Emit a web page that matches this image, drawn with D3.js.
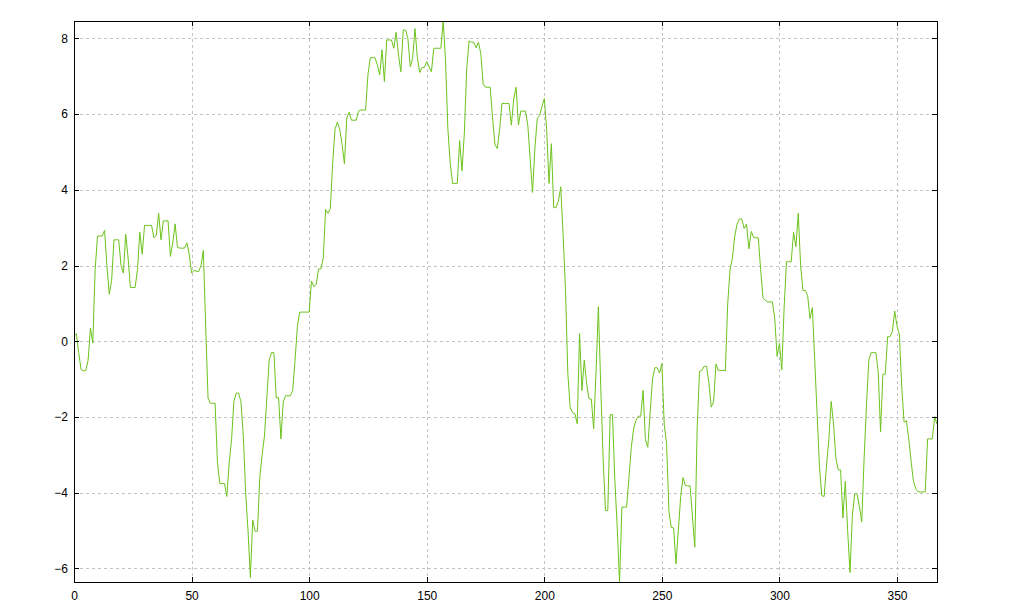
<!DOCTYPE html>
<html>
<head>
<meta charset="utf-8">
<script src="https://cdn.jsdelivr.net/npm/d3@7"></script>
<style>
  html, body { margin: 0; padding: 0; background: #ffffff; }
  svg { display: block; }
  .tick text { font-family: "Liberation Sans", Arial, sans-serif; font-size: 12px; fill: #000; }
</style>
</head>
<body>
<svg id="chart" width="1019" height="607"></svg>
<script>
// ---- data (one value per index 0..367) ----
const values = [
  0.15, 0.2, -0.3, -0.75, -0.78, -0.78, -0.5, 0.35, -0.05, 1.9,
  2.78, 2.78, 2.78, 2.93, 2.0, 1.24, 1.6, 2.68, 2.68, 2.68,
  2.0, 1.8, 2.83, 2.2, 1.42, 1.42, 1.42, 1.9, 2.88, 2.3,
  3.06, 3.06, 3.06, 3.06, 2.73, 2.8, 3.38, 2.68, 3.18, 3.18,
  3.18, 2.24, 2.6, 3.1, 2.48, 2.46, 2.46, 2.46, 2.6, 2.3,
  1.8, 1.87, 1.85, 1.84, 2.0, 2.4, 0.4, -1.5, -1.64, -1.64,
  -1.64, -3.2, -3.76, -3.76, -3.76, -4.1, -3.2, -2.6, -1.59, -1.37,
  -1.37, -1.6, -2.5, -4.0, -5.0, -6.24, -4.72, -5.02, -5.02, -3.6,
  -3.0, -2.5, -1.5, -0.5, -0.3, -0.3, -1.5, -1.49, -2.58, -1.6,
  -1.44, -1.44, -1.44, -1.3, -0.5, 0.4, 0.77, 0.77, 0.77, 0.77,
  0.77, 1.59, 1.44, 1.5, 1.91, 1.91, 2.2, 3.48, 3.38, 3.5,
  4.7, 5.6, 5.79, 5.6, 5.2, 4.69, 5.9, 6.05, 5.84, 5.84,
  5.84, 6.08, 6.11, 6.11, 6.11, 7.04, 7.49, 7.49, 7.49, 7.3,
  7.04, 7.7, 6.86, 7.96, 7.96, 7.96, 7.74, 8.16, 7.56, 7.12,
  8.22, 8.22, 8.0, 7.25, 7.47, 8.26, 7.5, 7.1, 7.23, 7.23,
  7.39, 7.25, 7.12, 7.74, 7.74, 7.74, 7.74, 8.46, 7.4, 5.6,
  4.7, 4.17, 4.17, 4.17, 5.3, 4.5, 5.5, 7.2, 7.93, 7.9,
  7.9, 7.75, 7.9, 7.6, 6.8, 6.71, 6.71, 6.71, 5.9, 5.2,
  5.09, 5.6, 6.28, 6.28, 6.28, 6.28, 5.71, 6.4, 6.71, 5.71,
  6.08, 6.08, 6.08, 5.7, 4.8, 3.93, 5.1, 5.88, 5.96, 6.2,
  6.41, 5.6, 4.17, 5.22, 3.53, 3.53, 3.7, 4.08, 2.8, 1.4,
  -0.85, -1.75, -1.89, -1.91, -2.18, 0.2, -1.3, -0.5, -1.12, -1.52,
  -1.53, -2.31, -0.8, 0.91, -1.2, -3.06, -4.47, -4.47, -1.94, -1.94,
  -3.67, -4.91, -6.36, -4.38, -4.38, -4.38, -3.6, -2.8, -2.3, -2.09,
  -1.98, -1.98, -1.3, -2.6, -2.8, -1.9, -1.0, -0.7, -0.7, -0.84,
  -0.59, -2.2, -2.7, -4.5, -4.92, -4.93, -5.88, -5.0, -4.1, -3.6,
  -3.81, -3.82, -3.82, -4.64, -5.44, -2.3, -0.8, -0.77, -0.66, -0.66,
  -1.1, -1.74, -1.6, -0.6, -0.77, -0.77, -0.77, -0.78, 0.99, 1.9,
  2.2, 2.78, 3.1, 3.23, 3.23, 2.98, 3.1, 2.44, 2.9, 2.75,
  2.73, 2.73, 1.9, 1.15, 1.08, 1.04, 1.04, 1.04, 0.6, -0.4,
  -0.05, -0.75, 0.9, 2.1, 2.1, 2.1, 2.88, 2.5, 3.38, 2.0,
  1.34, 1.34, 1.2, 0.6, 0.89, -0.5, -1.9, -3.3, -4.08, -4.1,
  -3.3, -2.6, -1.59, -2.19, -3.1, -3.4, -3.4, -4.67, -3.7, -5.0,
  -6.11, -4.6, -4.03, -4.03, -4.37, -4.77, -3.1, -1.7, -0.5, -0.3,
  -0.3, -0.3, -0.8, -2.39, -0.87, -0.87, 0.12, 0.12, 0.25, 0.8,
  0.4, 0.18, -1.2, -2.14, -2.1, -2.58, -3.18, -3.7, -3.9, -3.98,
  -3.98, -3.98, -3.98, -2.58, -2.58, -2.58, -1.99, -2.19
];
const xTicks = [0, 50, 100, 150, 200, 250, 300, 350];
const yTicks = [-6, -4, -2, 0, 2, 4, 6, 8];

// ---- layout ----
const W = 1019, H = 607;
const plot = { left: 74, top: 21, right: 937, bottom: 582 };

const svg = d3.select("#chart");

const x = d3.scaleLinear()
  .domain([0, values.length - 1])
  .range([plot.left, plot.right]);
const y = d3.scaleLinear()
  .domain(d3.extent(values))
  .range([plot.bottom, plot.top]);

// grid
const grid = svg.append("g").attr("stroke", "#c4c4c4").attr("stroke-dasharray", "3,3")
  .attr("shape-rendering", "crispEdges");
grid.selectAll("line.gx").data(xTicks).join("line")
  .attr("class", "gx")
  .attr("x1", d => Math.round(x(d)) + 0.5).attr("x2", d => Math.round(x(d)) + 0.5)
  .attr("y1", plot.top).attr("y2", plot.bottom);
grid.selectAll("line.gy").data(yTicks).join("line")
  .attr("class", "gy")
  .attr("y1", d => Math.round(y(d)) + 0.5).attr("y2", d => Math.round(y(d)) + 0.5)
  .attr("x1", plot.left).attr("x2", plot.right);

// line
const line = d3.line()
  .x((d, i) => x(i))
  .y(d => y(d));
svg.append("path")
  .datum(values)
  .attr("fill", "none")
  .attr("stroke", "#6cc31c")
  .attr("stroke-width", 1)
  .attr("d", line);

// axes with inward ticks
function styleAxis(g) {
  g.select(".domain").remove();
  g.selectAll(".tick line").attr("stroke", "#000").attr("shape-rendering", "crispEdges");
}
svg.append("g")
  .attr("transform", `translate(${plot.left},0)`)
  .call(d3.axisLeft(y).tickValues(yTicks).tickFormat(d3.format("d")).tickSizeInner(-5).tickSizeOuter(0).tickPadding(6))
  .call(styleAxis);
svg.append("g")
  .attr("transform", `translate(${plot.right},0)`)
  .call(d3.axisRight(y).tickValues(yTicks).tickFormat("").tickSizeInner(-5).tickSizeOuter(0))
  .call(styleAxis);
svg.append("g")
  .attr("transform", `translate(0,${plot.bottom})`)
  .call(d3.axisBottom(x).tickValues(xTicks).tickFormat(d3.format("d")).tickSizeInner(-5).tickSizeOuter(0).tickPadding(9))
  .call(styleAxis);
svg.append("g")
  .attr("transform", `translate(0,${plot.top})`)
  .call(d3.axisTop(x).tickValues(xTicks).tickFormat("").tickSizeInner(-5).tickSizeOuter(0))
  .call(styleAxis);

// frame
svg.append("rect")
  .attr("x", plot.left + 0.5).attr("y", plot.top + 0.5)
  .attr("width", plot.right - plot.left).attr("height", plot.bottom - plot.top)
  .attr("fill", "none").attr("stroke", "#000").attr("stroke-width", 1)
  .attr("shape-rendering", "crispEdges");
</script>
</body>
</html>
